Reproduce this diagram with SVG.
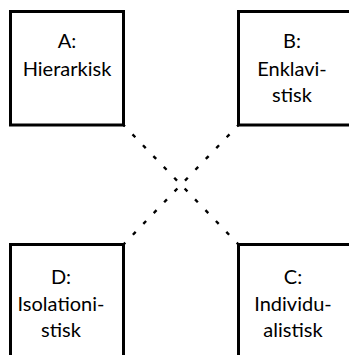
<svg xmlns="http://www.w3.org/2000/svg" width="349" height="355" viewBox="0 0 349 355">
<style>
.box{fill:#fff;stroke:#000;stroke-width:3}
.lbl{font-family:Lato,"Open Sans",sans-serif;font-size:20px;fill:#000;text-anchor:middle}
.dot{stroke:#000;stroke-width:2.4;fill:none;stroke-dasharray:4 11.03;stroke-dashoffset:2}
</style>
<rect width="349" height="355" fill="#fff"/>
<g id="connectors">
<line class="dot" x1="123.5" y1="125" x2="238.5" y2="244.5"/>
<line class="dot" x1="238.5" y1="125" x2="123.5" y2="244.5"/>
</g>
<g id="A">
<rect class="box" x="10.5" y="11.5" width="113" height="113.5"/>
<text class="lbl" x="67" y="47.5">A:</text>
<text class="lbl" x="67" y="75.5">Hierarkisk</text>
</g>
<g id="B">
<rect class="box" x="238.5" y="11.5" width="113" height="113.5"/>
<text class="lbl" x="292" y="47.5">B:</text>
<text class="lbl" x="292" y="75.5">Enklavi-</text>
<text class="lbl" x="292" y="102">stisk</text>
</g>
<g id="D">
<rect class="box" x="10.5" y="244.5" width="113" height="113.5"/>
<text class="lbl" x="61" y="283.5">D:</text>
<text class="lbl" x="61" y="310.5">Isolationi-</text>
<text class="lbl" x="61" y="336.5">stisk</text>
</g>
<g id="C">
<rect class="box" x="238.5" y="244.5" width="113" height="113.5"/>
<text class="lbl" x="293" y="283.5">C:</text>
<text class="lbl" x="293" y="310.5">Individu-</text>
<text class="lbl" x="293" y="336.5">alistisk</text>
</g>
</svg>
